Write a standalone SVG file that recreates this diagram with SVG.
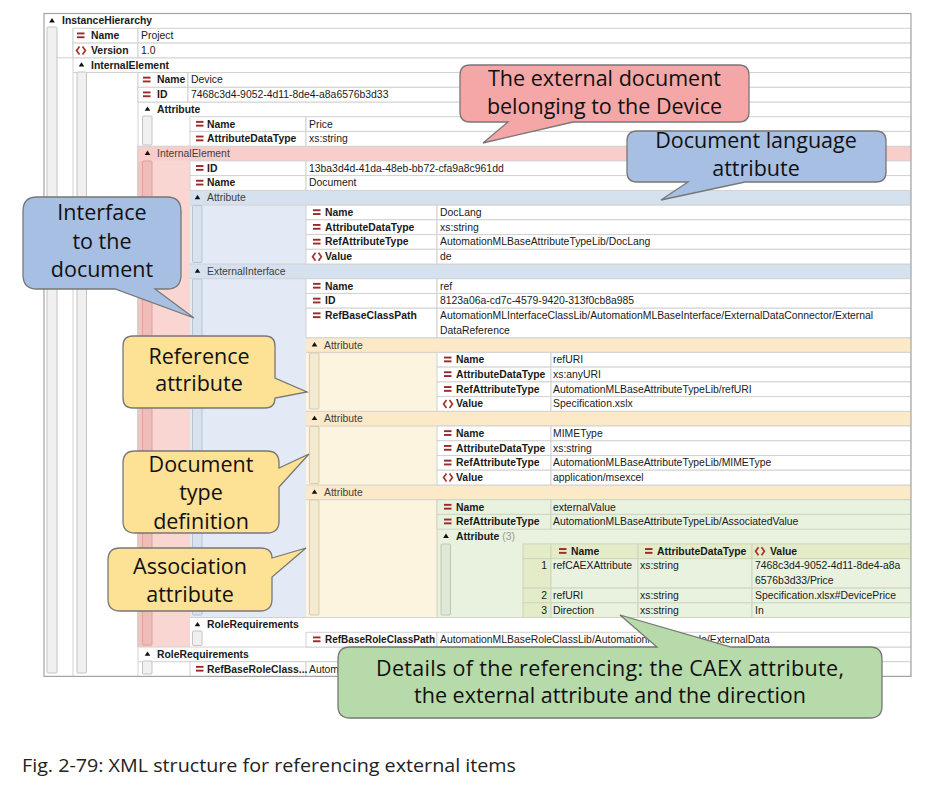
<svg xmlns="http://www.w3.org/2000/svg" xmlns:xlink="http://www.w3.org/1999/xlink" width="937" height="788" viewBox="0 0 937 788">
<style>
.kb{font-family:"Liberation Sans",Arial,sans-serif;font-size:10.4px;font-weight:bold;fill:#1a1a1a}
.v{font-family:"Liberation Sans",Arial,sans-serif;font-size:10.4px;fill:#1a1a1a}
.hs{font-family:"Liberation Sans",Arial,sans-serif;font-size:10.4px;fill:#3f3f3f}
.gr{font-family:"Liberation Sans",Arial,sans-serif;font-size:10.4px;fill:#9a9a9a}
.c{fill:#fff;stroke:#d2d2d2;stroke-width:1}
.cg{fill:#e9f1df;stroke:#cdd6c0;stroke-width:1}
.ci{fill:#e3ebc8;stroke:#cdd6c0;stroke-width:1}
.ln{stroke:#d2d2d2;stroke-width:1;fill:none}
.bar{fill:#f0f0f0;stroke:#c4c4c4;stroke-width:1}
.barP{fill:#efbcb8;stroke:#dca29d;stroke-width:1}
.barB{fill:#d8e1ee;stroke:#b8c5d7;stroke-width:1}
.barY{fill:#f4ead0;stroke:#d8cba8;stroke-width:1}
.barG{fill:#dfe7d5;stroke:#bcc8ae;stroke-width:1}
.co{stroke:#777;stroke-width:1.3}
.ct{font-family:"Open Sans","Liberation Sans",sans-serif;font-size:21.5px;fill:#111;text-anchor:middle}
.cap{font-family:"Open Sans","Liberation Sans",sans-serif;font-size:18.5px;fill:#222}
</style>
<defs>
<g id="eq" fill="#9b2a2a"><rect x="0" y="-3.2" width="7.5" height="1.9"/><rect x="0" y="0.6" width="7.5" height="1.9"/></g>
<path id="br" d="M3.5,-4 L0.6,0 L3.5,4 M6.5,-4 L9.4,0 L6.5,4" fill="none" stroke="#a8322d" stroke-width="1.7"/>
<path id="tg" d="M-2.8,1.4 L2.8,1.4 L0,-3 Z" fill="#111"/>
<clipPath id="frame"><rect x="44" y="13" width="867" height="663.4"/></clipPath>
</defs>
<rect x="0" y="0" width="937" height="788" fill="#fff"/>

<g id="tree" clip-path="url(#frame)">
  <!-- regions -->
  <rect x="137" y="146.2" width="774" height="14.7" fill="#f9cdc9"/>
  <rect x="137" y="160.9" width="53" height="486.1" fill="#f9d6d2"/>
  <rect x="137" y="160.9" width="15" height="486.1" fill="#f2c3bf"/>
  <rect x="190" y="190.4" width="721" height="14.7" fill="#d6e1f0"/>
  <rect x="190" y="205.1" width="116" height="412.4" fill="#e3eaf5"/>
  <rect x="190" y="264.0" width="721" height="14.7" fill="#d6e1f0"/>
  <rect x="306" y="337.7" width="605" height="279.8" fill="#fcf4de"/>
  <rect x="306" y="337.7" width="605" height="14.7" fill="#fbe9c7"/>
  <rect x="306" y="411.3" width="605" height="14.7" fill="#fbe9c7"/>
  <rect x="306" y="485.0" width="605" height="14.7" fill="#fbe9c7"/>
  <rect x="437" y="499.7" width="474" height="117.8" fill="#e9f1df" stroke="#cdd6c0"/>

  <!-- structural lines -->
  <path class="ln" d="M73,28.3 V676 M138,72.5 V676 M138,102 H911 M138,146.2 H911 M190,190.4 H911 M190,205.1 H911 M190,264 H911 M190,278.7 H911 M306,337.7 H911 M306,352.4 H911 M306,411.3 H911 M306,426 H911 M306,485 H911 M306,499.7 H911 M190,617.5 H911 M138,647 H911 M138,661.7 H911 M57,57.8 H911 M73,72.5 H911"/>

  <!-- gutter bars -->
  <rect class="bar" x="47" y="27" width="10" height="646" rx="1"/>
  <rect class="bar" x="77" y="72" width="9.5" height="601" rx="1"/>
  <rect class="bar" x="142.5" y="116" width="9.5" height="29" rx="1"/>
  <rect class="barP" x="142.5" y="161" width="9.5" height="484" rx="1"/>
  <rect class="barB" x="192.5" y="205.5" width="9.5" height="57" rx="1"/>
  <rect class="barB" x="192.5" y="279" width="9.5" height="336" rx="1"/>
  <rect class="barY" x="309.5" y="353" width="9.5" height="56" rx="1"/>
  <rect class="barY" x="309.5" y="426.5" width="9.5" height="57" rx="1"/>
  <rect class="barY" x="309.5" y="500" width="9.5" height="115" rx="1"/>
  <rect class="barG" x="441" y="544" width="9.5" height="71" rx="1"/>
  <rect class="bar" x="192.5" y="631" width="9.5" height="14.5" rx="1"/>
  <rect class="bar" x="142.5" y="661" width="9.5" height="13" rx="1"/>

  <g id="instanceHierarchy">
    <use href="#tg" x="52" y="21"/>
    <text class="kb" x="62" y="24.4">InstanceHierarchy</text>
    <rect class="c" x="73" y="28.3" width="65" height="14.8"/><rect class="c" x="138" y="28.3" width="773" height="14.8"/>
    <use href="#eq" x="77" y="35.7"/><text class="kb" x="91" y="39.1">Name</text><text class="v" x="141" y="39.1">Project</text>
    <rect class="c" x="73" y="43.1" width="65" height="14.7"/><rect class="c" x="138" y="43.1" width="773" height="14.7"/>
    <use href="#br" x="76" y="50.5"/><text class="kb" x="91" y="53.9">Version</text><text class="v" x="141" y="53.9">1.0</text>
  </g>

  <g id="ieDevice">
    <use href="#tg" x="81.5" y="65.2"/>
    <text class="kb" x="91" y="68.6">InternalElement</text>
    <rect class="c" x="138" y="72.5" width="50" height="14.8"/><rect class="c" x="188" y="72.5" width="723" height="14.8"/>
    <use href="#eq" x="143" y="79.9"/><text class="kb" x="157" y="83.3">Name</text><text class="v" x="191" y="83.3">Device</text>
    <rect class="c" x="138" y="87.3" width="50" height="14.7"/><rect class="c" x="188" y="87.3" width="723" height="14.7"/>
    <use href="#eq" x="143" y="94.7"/><text class="kb" x="157" y="98.1">ID</text><text class="v" x="191" y="98.1">7468c3d4-9052-4d11-8de4-a8a6576b3d33</text>
  </g>

  <g id="attrPrice">
    <use href="#tg" x="147.5" y="109.4"/>
    <text class="kb" x="157" y="112.8">Attribute</text>
    <rect class="c" x="190" y="116.7" width="116" height="14.7"/><rect class="c" x="306" y="116.7" width="605" height="14.7"/>
    <use href="#eq" x="196" y="124.1"/><text class="kb" x="207" y="127.5">Name</text><text class="v" x="309" y="127.5">Price</text>
    <rect class="c" x="190" y="131.4" width="116" height="14.8"/><rect class="c" x="306" y="131.4" width="605" height="14.8"/>
    <use href="#eq" x="196" y="138.8"/><text class="kb" x="207" y="142.2">AttributeDataType</text><text class="v" x="309" y="142.2">xs:string</text>
  </g>

  <g id="ieDocument">
    <use href="#tg" x="147.5" y="153.6"/>
    <text class="hs" x="157" y="157">InternalElement</text>
    <rect class="c" x="190" y="160.9" width="116" height="14.7"/><rect class="c" x="306" y="160.9" width="605" height="14.7"/>
    <use href="#eq" x="196" y="168.3"/><text class="kb" x="207" y="171.7">ID</text><text class="v" x="309" y="171.7">13ba3d4d-41da-48eb-bb72-cfa9a8c961dd</text>
    <rect class="c" x="190" y="175.6" width="116" height="14.8"/><rect class="c" x="306" y="175.6" width="605" height="14.8"/>
    <use href="#eq" x="196" y="183"/><text class="kb" x="207" y="186.4">Name</text><text class="v" x="309" y="186.4">Document</text>
  </g>

  <g id="attrDocLang">
    <use href="#tg" x="197.5" y="197.8"/>
    <text class="hs" x="207" y="201.2">Attribute</text>
    <rect class="c" x="306" y="205.1" width="131" height="14.7"/><rect class="c" x="437" y="205.1" width="474" height="14.7"/>
    <use href="#eq" x="313" y="212.5"/><text class="kb" x="325" y="215.9">Name</text><text class="v" x="440" y="215.9">DocLang</text>
    <rect class="c" x="306" y="219.8" width="131" height="14.8"/><rect class="c" x="437" y="219.8" width="474" height="14.8"/>
    <use href="#eq" x="313" y="227.2"/><text class="kb" x="325" y="230.6">AttributeDataType</text><text class="v" x="440" y="230.6">xs:string</text>
    <rect class="c" x="306" y="234.6" width="131" height="14.7"/><rect class="c" x="437" y="234.6" width="474" height="14.7"/>
    <use href="#eq" x="313" y="242"/><text class="kb" x="325" y="245.4">RefAttributeType</text><text class="v" x="440" y="245.4">AutomationMLBaseAttributeTypeLib/DocLang</text>
    <rect class="c" x="306" y="249.3" width="131" height="14.7"/><rect class="c" x="437" y="249.3" width="474" height="14.7"/>
    <use href="#br" x="312" y="256.7"/><text class="kb" x="325" y="260.1">Value</text><text class="v" x="440" y="260.1">de</text>
  </g>

  <g id="externalInterface">
    <use href="#tg" x="197.5" y="271.4"/>
    <text class="hs" x="207" y="274.8">ExternalInterface</text>
    <rect class="c" x="306" y="278.7" width="131" height="14.8"/><rect class="c" x="437" y="278.7" width="474" height="14.8"/>
    <use href="#eq" x="313" y="286.1"/><text class="kb" x="325" y="289.5">Name</text><text class="v" x="440" y="289.5">ref</text>
    <rect class="c" x="306" y="293.5" width="131" height="14.7"/><rect class="c" x="437" y="293.5" width="474" height="14.7"/>
    <use href="#eq" x="313" y="300.9"/><text class="kb" x="325" y="304.3">ID</text><text class="v" x="440" y="304.3">8123a06a-cd7c-4579-9420-313f0cb8a985</text>
    <rect class="c" x="306" y="308.2" width="131" height="29.5"/><rect class="c" x="437" y="308.2" width="474" height="29.5"/>
    <use href="#eq" x="313" y="315.6"/><text class="kb" x="325" y="319">RefBaseClassPath</text>
    <text class="v" x="440" y="319">AutomationMLInterfaceClassLib/AutomationMLBaseInterface/ExternalDataConnector/External</text>
    <text class="v" x="440" y="333.7">DataReference</text>
  </g>

  <g id="attrRefURI">
    <use href="#tg" x="314.5" y="345.1"/>
    <text class="hs" x="324" y="348.5">Attribute</text>
    <rect class="c" x="437" y="352.4" width="114" height="14.7"/><rect class="c" x="551" y="352.4" width="360" height="14.7"/>
    <use href="#eq" x="444" y="359.8"/><text class="kb" x="456" y="363.2">Name</text><text class="v" x="553" y="363.2">refURI</text>
    <rect class="c" x="437" y="367.1" width="114" height="14.8"/><rect class="c" x="551" y="367.1" width="360" height="14.8"/>
    <use href="#eq" x="444" y="374.5"/><text class="kb" x="456" y="377.9">AttributeDataType</text><text class="v" x="553" y="377.9">xs:anyURI</text>
    <rect class="c" x="437" y="381.9" width="114" height="14.7"/><rect class="c" x="551" y="381.9" width="360" height="14.7"/>
    <use href="#eq" x="444" y="389.3"/><text class="kb" x="456" y="392.7">RefAttributeType</text><text class="v" x="553" y="392.7">AutomationMLBaseAttributeTypeLib/refURI</text>
    <rect class="c" x="437" y="396.6" width="114" height="14.7"/><rect class="c" x="551" y="396.6" width="360" height="14.7"/>
    <use href="#br" x="443" y="404"/><text class="kb" x="456" y="407.4">Value</text><text class="v" x="553" y="407.4">Specification.xslx</text>
  </g>

  <g id="attrMIME">
    <use href="#tg" x="314.5" y="418.7"/>
    <text class="hs" x="324" y="422.1">Attribute</text>
    <rect class="c" x="437" y="426" width="114" height="14.8"/><rect class="c" x="551" y="426" width="360" height="14.8"/>
    <use href="#eq" x="444" y="433.4"/><text class="kb" x="456" y="436.8">Name</text><text class="v" x="553" y="436.8">MIMEType</text>
    <rect class="c" x="437" y="440.8" width="114" height="14.7"/><rect class="c" x="551" y="440.8" width="360" height="14.7"/>
    <use href="#eq" x="444" y="448.2"/><text class="kb" x="456" y="451.6">AttributeDataType</text><text class="v" x="553" y="451.6">xs:string</text>
    <rect class="c" x="437" y="455.5" width="114" height="14.7"/><rect class="c" x="551" y="455.5" width="360" height="14.7"/>
    <use href="#eq" x="444" y="462.9"/><text class="kb" x="456" y="466.3">RefAttributeType</text><text class="v" x="553" y="466.3">AutomationMLBaseAttributeTypeLib/MIMEType</text>
    <rect class="c" x="437" y="470.2" width="114" height="14.8"/><rect class="c" x="551" y="470.2" width="360" height="14.8"/>
    <use href="#br" x="443" y="477.6"/><text class="kb" x="456" y="481">Value</text><text class="v" x="553" y="481">application/msexcel</text>
  </g>

  <g id="attrAssociation">
    <use href="#tg" x="314.5" y="492.4"/>
    <text class="hs" x="324" y="495.8">Attribute</text>
    <rect class="cg" x="437" y="499.7" width="114" height="14.7"/><rect class="cg" x="551" y="499.7" width="360" height="14.7"/>
    <use href="#eq" x="444" y="507.1"/><text class="kb" x="456" y="510.5">Name</text><text class="v" x="553" y="510.5">externalValue</text>
    <rect class="cg" x="437" y="514.4" width="114" height="14.8"/><rect class="cg" x="551" y="514.4" width="360" height="14.8"/>
    <use href="#eq" x="444" y="521.8"/><text class="kb" x="456" y="525.2">RefAttributeType</text><text class="v" x="553" y="525.2">AutomationMLBaseAttributeTypeLib/AssociatedValue</text>
  </g>

  <g id="attrTable">
    <use href="#tg" x="446" y="536.6"/>
    <text x="456" y="540"><tspan class="kb">Attribute</tspan><tspan class="gr"> (3)</tspan></text>
    <rect class="ci" x="523" y="543.9" width="28" height="14.7"/>
    <rect class="ci" x="551" y="543.9" width="87" height="14.7"/>
    <rect class="ci" x="638" y="543.9" width="114" height="14.7"/>
    <rect class="ci" x="752" y="543.9" width="159" height="14.7"/>
    <use href="#eq" x="559" y="551.3"/><text class="kb" x="571" y="554.7">Name</text>
    <use href="#eq" x="645" y="551.3"/><text class="kb" x="657" y="554.7">AttributeDataType</text>
    <use href="#br" x="755" y="551.3"/><text class="kb" x="770" y="554.7">Value</text>
    <rect class="ci" x="523" y="558.6" width="28" height="29.5"/>
    <rect class="cg" x="551" y="558.6" width="87" height="29.5"/>
    <rect class="cg" x="638" y="558.6" width="114" height="29.5"/>
    <rect class="cg" x="752" y="558.6" width="159" height="29.5"/>
    <text class="v" x="547" y="569.4" text-anchor="end">1</text>
    <text class="v" x="553" y="569.4">refCAEXAttribute</text>
    <text class="v" x="640" y="569.4">xs:string</text>
    <text class="v" x="755" y="569.4">7468c3d4-9052-4d11-8de4-a8a</text>
    <text class="v" x="755" y="584.1">6576b3d33/Price</text>
    <rect class="ci" x="523" y="588.1" width="28" height="14.7"/>
    <rect class="cg" x="551" y="588.1" width="87" height="14.7"/>
    <rect class="cg" x="638" y="588.1" width="114" height="14.7"/>
    <rect class="cg" x="752" y="588.1" width="159" height="14.7"/>
    <text class="v" x="547" y="598.9" text-anchor="end">2</text>
    <text class="v" x="553" y="598.9">refURI</text>
    <text class="v" x="640" y="598.9">xs:string</text>
    <text class="v" x="755" y="598.9">Specification.xlsx#DevicePrice</text>
    <rect class="ci" x="523" y="602.8" width="28" height="14.7"/>
    <rect class="cg" x="551" y="602.8" width="87" height="14.7"/>
    <rect class="cg" x="638" y="602.8" width="114" height="14.7"/>
    <rect class="cg" x="752" y="602.8" width="159" height="14.7"/>
    <text class="v" x="547" y="613.6" text-anchor="end">3</text>
    <text class="v" x="553" y="613.6">Direction</text>
    <text class="v" x="640" y="613.6">xs:string</text>
    <text class="v" x="755" y="613.6">In</text>
  </g>

  <g id="roleReqInner">
    <use href="#tg" x="197.5" y="624.9"/>
    <text class="kb" x="207" y="628.3">RoleRequirements</text>
    <rect class="c" x="306" y="632.3" width="131" height="14.7"/><rect class="c" x="437" y="632.3" width="474" height="14.7"/>
    <use href="#eq" x="313" y="639.7"/><text class="kb" x="325" y="643.1" textLength="110" lengthAdjust="spacingAndGlyphs">RefBaseRoleClassPath</text>
    <text class="v" x="440" y="643.1">AutomationMLBaseRoleClassLib/AutomationMLBaseRole/ExternalData</text>
  </g>

  <g id="roleReqOuter">
    <use href="#tg" x="147.5" y="654.4"/>
    <text class="kb" x="157" y="657.8">RoleRequirements</text>
    <rect class="c" x="190" y="661.7" width="116" height="14.7"/><rect class="c" x="306" y="661.7" width="605" height="14.7"/>
    <use href="#eq" x="196" y="669.1"/><text class="kb" x="207" y="672.5">RefBaseRoleClass...</text>
    <text class="v" x="309" y="672.5">Autom</text>
  </g>
</g>
<rect x="44" y="13.5" width="867" height="662.9" fill="none" stroke="#a3a3a3" stroke-width="1.2"/>

<g id="callouts">
  <g id="calloutExternalDoc">
    <path class="co" fill="#f4a7a6" d="M470,65 H739 Q749,65 749,75 V112 Q749,122 739,122 H573 L483,143 L508,122 H470 Q460,122 460,112 V75 Q460,65 470,65 Z"/>
    <text class="ct" x="604.5" y="86">The external document</text>
    <text class="ct" x="604.5" y="114">belonging to the Device</text>
  </g>
  <g id="calloutDocLang">
    <path class="co" fill="#a7bfe3" d="M637,131 H876 Q886,131 886,141 V172 Q886,182 876,182 H745 L661,200 L688,182 H637 Q627,182 627,172 V141 Q627,131 637,131 Z"/>
    <text class="ct" x="756" y="148">Document language</text>
    <text class="ct" x="756" y="176">attribute</text>
  </g>
  <g id="calloutInterface">
    <path class="co" fill="#a7bfe3" d="M37,197 H167 Q181,197 181,211 V275 Q181,289 167,289 H155 L194,318 L115,289 H37 Q23,289 23,275 V211 Q23,197 37,197 Z"/>
    <text class="ct" x="102" y="220">Interface</text>
    <text class="ct" x="102" y="249">to the</text>
    <text class="ct" x="102" y="277">document</text>
  </g>
  <g id="calloutReference">
    <path class="co" fill="#fde194" d="M133,336 H265 Q275,336 275,346 V378 L307,392 L275,398 Q275,408 265,408 H133 Q123,408 123,398 V346 Q123,336 133,336 Z"/>
    <text class="ct" x="199" y="364">Reference</text>
    <text class="ct" x="199" y="391">attribute</text>
  </g>
  <g id="calloutDocType">
    <path class="co" fill="#fde194" d="M135,451 H267 Q279,451 279,463 V468 L309,454 L279,487 V521 Q279,533 267,533 H135 Q123,533 123,521 V463 Q123,451 135,451 Z"/>
    <text class="ct" x="201" y="472">Document</text>
    <text class="ct" x="201" y="500">type</text>
    <text class="ct" x="201" y="529">definition</text>
  </g>
  <g id="calloutAssociation">
    <path class="co" fill="#fde194" d="M120,548 H260 Q272,548 272,558 L306,548 L272,577 V599 Q272,611 260,611 H120 Q108,611 108,599 V560 Q108,548 120,548 Z"/>
    <text class="ct" x="190" y="574">Association</text>
    <text class="ct" x="190" y="602">attribute</text>
  </g>
  <g id="calloutDetails">
    <path class="co" fill="#b6daa9" d="M350,647 H657 L620,615 L731,647 H870 Q882,647 882,659 V706 Q882,718 870,718 H350 Q338,718 338,706 V659 Q338,647 350,647 Z"/>
    <text class="ct" x="610" y="675.5" textLength="468" lengthAdjust="spacing">Details of the referencing: the CAEX attribute,</text>
    <text class="ct" x="610" y="703" textLength="392" lengthAdjust="spacing">the external attribute and the direction</text>
  </g>
</g>

<text class="cap" x="22" y="772" textLength="494" lengthAdjust="spacingAndGlyphs">Fig. 2-79: XML structure for referencing external items</text>
</svg>
